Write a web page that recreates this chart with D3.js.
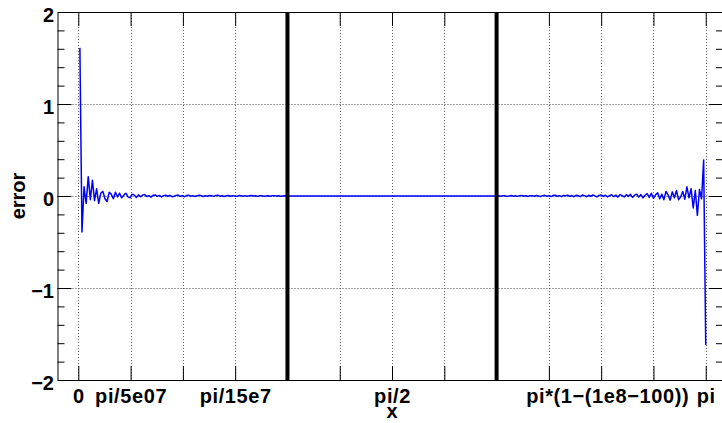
<!DOCTYPE html>
<html>
<head>
<meta charset="utf-8">
<script src="https://cdn.jsdelivr.net/npm/d3@7"></script>
<style>
  body { margin: 0; background: #fff; }
  svg text { font-family: "Liberation Sans", Arial, Helvetica, sans-serif; font-weight: bold; }
</style>
</head>
<body>
<div id="chart"></div>
<script>
// tick positions along the (piecewise) x axis and their labels
const xTickPos = [0, 1, 2, 3, 4, 5, 6, 7, 8, 9, 10, 11, 12];
const xTickLabels = ['0', 'pi/5e07', '', 'pi/15e7', '', '', 'pi/2', '', '', '', 'pi*(1\u2212(1e8\u2212100))', '', 'pi'];
const breakPos = [4, 8];
const yMajor = [-2, -1, 0, 1, 2];
const yGrid = [-1, 0, 1];

// error samples: left block starts at 0.03, right block at 8.0, both sampled every 0.04
const leftStart = 0.03, rightStart = 8.0, sampleStep = 0.04;
const leftErr = [
  1.61, -0.39, 0.10, -0.08, 0.21, -0.04, 0.17, -0.05, 0.08, -0.08,
  0.03, 0.05, -0.03, -0.06, 0.04, 0.02, -0.03, 0.04, -0.01, 0.03,
  -0.02, 0.01, 0.03, -0.01, -0.02, 0.02, 0.01, -0.015, 0.012, -0.008,
  0.01, 0.015, -0.006, 0.004, -0.012, 0.008, 0.012, -0.004, 0.006, -0.01,
  0.004, 0.009, -0.003, 0.007, -0.008, -0.002, 0.006, 0.01, -0.004, 0.003,
  -0.007, 0.005, 0.008, -0.002, 0.004, -0.006, 0.003, 0.007, 0.002, -0.005,
  0.004, -0.003, 0.006, 0.002, -0.004, 0.005, 0.008, -0.002, 0.003, -0.005,
  0.002, 0.006, -0.003, 0.004, 0.001, -0.004, 0.005, 0.003, -0.002, 0.004,
  -0.003, 0.002, 0.005, -0.001, 0.003, -0.004, 0.002, 0.004, -0.002, 0.001,
  0.003, -0.002, 0.002, 0.004, -0.001, 0.002, -0.003, 0.001, 0.002, 0.0
];
const midErr = [[3.99, 0], [8.0, 0]];
const rightErr = [
  0.0, 0.003, -0.002, 0.004, 0.002, -0.004, 0.001, 0.005, -0.002, 0.003,
  -0.004, 0.002, 0.006, -0.001, 0.003, -0.005, 0.004, 0.002, -0.003, 0.006,
  0.001, -0.005, 0.004, 0.007, -0.002, 0.003, -0.006, 0.005, 0.008, -0.003,
  0.004, -0.007, 0.006, 0.002, 0.009, -0.004, 0.005, -0.008, 0.007, 0.003,
  -0.006, 0.01, 0.004, -0.007, 0.008, -0.003, 0.011, 0.002, -0.009, 0.006,
  0.012, -0.005, 0.008, -0.01, 0.004, 0.013, -0.006, 0.009, -0.012, 0.015,
  0.005, -0.01, 0.014, -0.004, 0.018, -0.015, 0.01, 0.02, -0.012, 0.016,
  -0.02, 0.008, 0.025, -0.015, 0.03, -0.025, 0.012, 0.035, -0.03, 0.02,
  -0.04, 0.05, 0.01, -0.045, 0.045, -0.02, 0.06, -0.04, -0.01, 0.05,
  -0.035, 0.10, -0.02, 0.08, -0.13, 0.06, -0.21, 0.07, -0.03, 0.39, -1.62
];

const width = 722, height = 423;
const frame = { left: 57.5, right: 723, top: 12, bottom: 380 };

const x = d3.scaleLinear().domain([-0.398, 12.33]).range([frame.left, frame.right]);
const y = d3.scaleLinear().domain([-2, 2]).range([frame.bottom, frame.top]);

const svg = d3.select('#chart').append('svg')
  .attr('width', width)
  .attr('height', height);

// grid
svg.append('g').attr('class', 'grid-x')
  .selectAll('line')
  .data(xTickPos.filter(d => !breakPos.includes(d)))
  .enter().append('line')
  .attr('x1', d => Math.round(x(d)) + 0.5)
  .attr('x2', d => Math.round(x(d)) + 0.5)
  .attr('y1', frame.top)
  .attr('y2', frame.bottom)
  .attr('stroke', '#666')
  .attr('stroke-dasharray', '1,2');

svg.append('g').attr('class', 'grid-y')
  .selectAll('line')
  .data(yGrid)
  .enter().append('line')
  .attr('x1', frame.left)
  .attr('x2', frame.right)
  .attr('y1', d => Math.round(y(d)) + 0.5)
  .attr('y2', d => Math.round(y(d)) + 0.5)
  .attr('stroke', '#444')
  .attr('stroke-dasharray', '1,2');

// curve
const points = []
  .concat(leftErr.map((v, i) => [leftStart + i * sampleStep, v]))
  .concat(midErr)
  .concat(rightErr.map((v, i) => [rightStart + i * sampleStep, v]));

const line = d3.line().x(d => x(d[0])).y(d => y(d[1]));

svg.append('path')
  .datum(points)
  .attr('fill', 'none')
  .attr('stroke', '#0000ff')
  .attr('stroke-width', 1.5)
  .attr('stroke-linejoin', 'round')
  .attr('d', line);

// thick break lines
svg.append('g').attr('class', 'breaks')
  .selectAll('line')
  .data(breakPos)
  .enter().append('line')
  .attr('x1', d => x(d))
  .attr('x2', d => x(d))
  .attr('y1', frame.top)
  .attr('y2', frame.bottom)
  .attr('stroke', '#000')
  .attr('stroke-width', 4);

// axes
const xBottom = d3.axisBottom(x)
  .tickValues(xTickPos)
  .tickSizeInner(-14)
  .tickSizeOuter(0)
  .tickFormat((d, i) => xTickLabels[i]);

const gxb = svg.append('g')
  .attr('transform', `translate(0,${frame.bottom})`)
  .call(xBottom);
gxb.selectAll('text')
  .attr('y', 23)
  .attr('dy', null)
  .attr('dx', d => d === 10 ? 6 : 0)
  .attr('font-size', 20)
  .attr('letter-spacing', 0.6)
  .attr('fill', '#000');

svg.append('g')
  .attr('transform', `translate(0,${frame.top})`)
  .call(d3.axisTop(x).tickValues(xTickPos).tickSizeInner(-14).tickSizeOuter(0).tickFormat(''));

const yMinor = d3.range(-20, 21, 2).map(d => d / 10).filter(d => !yMajor.includes(d));

const gyl = svg.append('g')
  .attr('transform', `translate(${frame.left},0)`)
  .call(d3.axisLeft(y).tickValues(yMajor).tickSizeInner(-14).tickSizeOuter(0).tickPadding(3.5)
    .tickFormat(d => d < 0 ? '\u2212' + Math.abs(d) : String(d)));
gyl.selectAll('text')
  .attr('dy', 9)
  .attr('font-size', 20)
  .attr('fill', '#000');

svg.append('g')
  .attr('transform', `translate(${frame.left},0)`)
  .call(d3.axisLeft(y).tickValues(yMinor).tickSizeInner(-7).tickSizeOuter(0).tickFormat(''))
  .select('.domain').remove();

svg.append('g')
  .attr('transform', `translate(${frame.right},0)`)
  .call(d3.axisRight(y).tickValues(yMajor).tickSizeInner(-14).tickSizeOuter(0).tickFormat(''));

svg.append('g')
  .attr('transform', `translate(${frame.right},0)`)
  .call(d3.axisRight(y).tickValues(yMinor).tickSizeInner(-7).tickSizeOuter(0).tickFormat(''))
  .select('.domain').remove();

// titles
svg.append('text')
  .attr('x', x(6))
  .attr('y', 418)
  .attr('text-anchor', 'middle')
  .attr('font-size', 20)
  .text('x');

svg.append('text')
  .attr('transform', `translate(25,${y(0)}) rotate(-90)`)
  .attr('text-anchor', 'middle')
  .attr('font-size', 20)
  .text('error');
</script>
</body>
</html>
